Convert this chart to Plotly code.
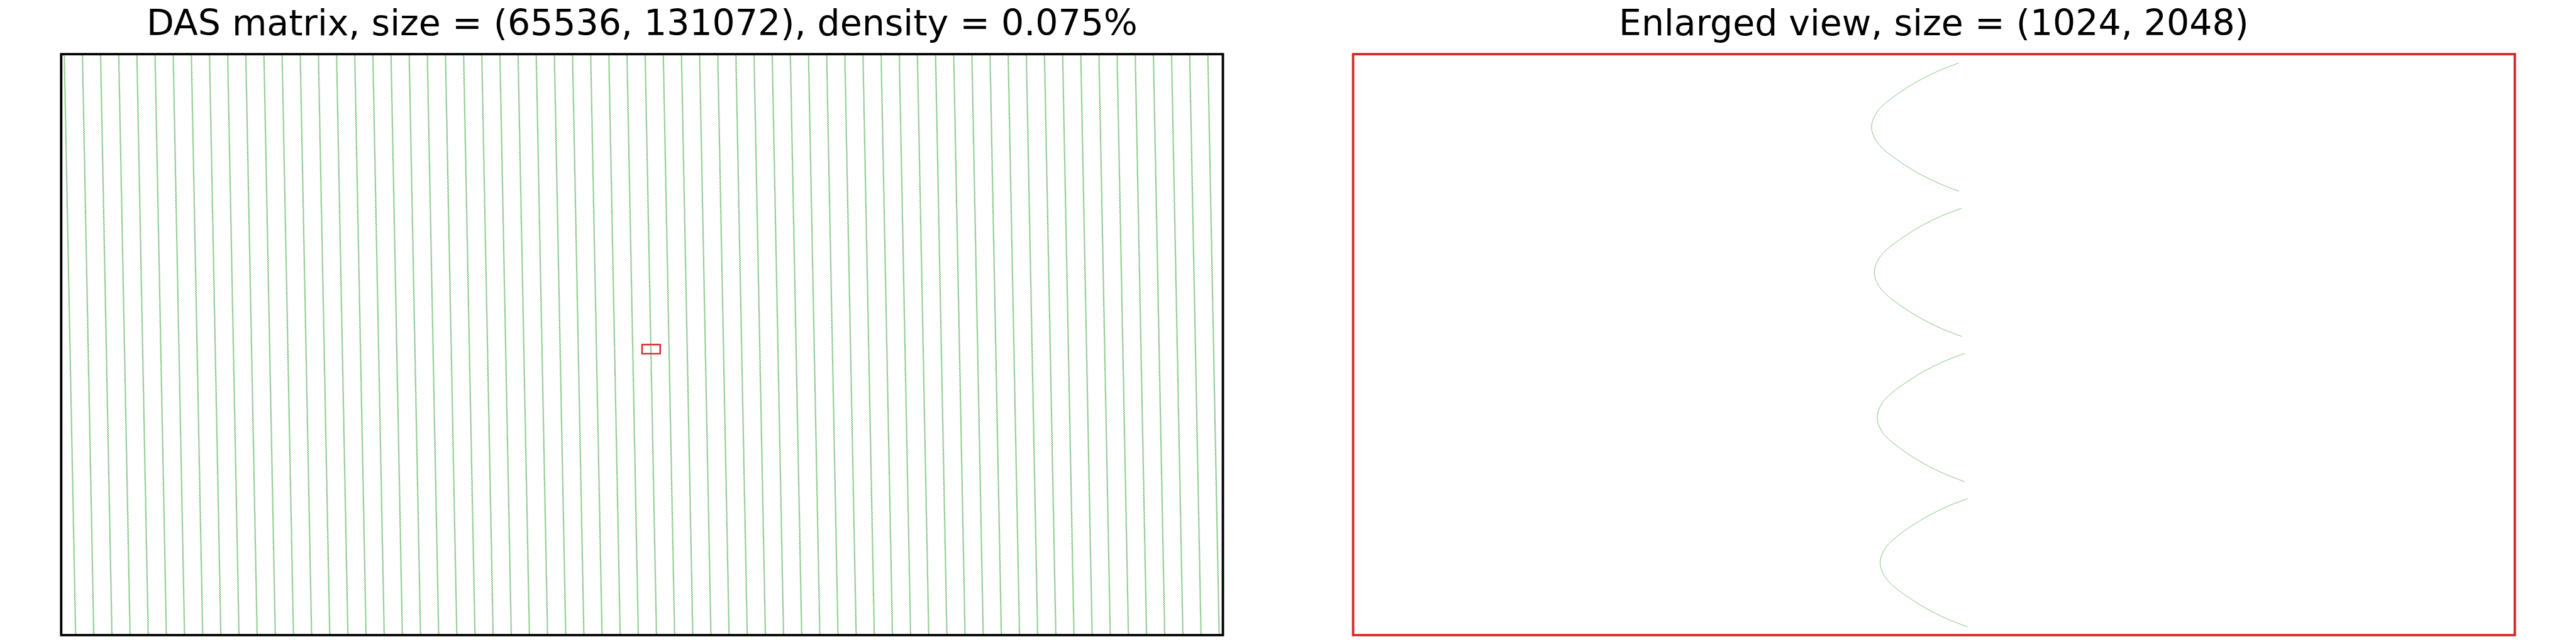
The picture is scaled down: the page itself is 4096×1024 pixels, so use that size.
import numpy as np
import plotly.graph_objects as go

# ---------------- data ----------------
N_ROWS = 65536
N_COLS = 131072
DENSITY_PCT = 0.075

# enlarged window (sub-matrix shown on the right)
ZOOM_ROW0 = 32768
ZOOM_COL0 = 65536
ZOOM_NROWS = 1024
ZOOM_NCOLS = 2048

BLOCK_ROWS = 256          # one hyperbolic arc per 256-row block
ARC_VERTEX_ROW = 128      # vertex row inside a block

# shape of one arc, relative to its vertex (read from the enlarged view)
arc_drow = [-113, -99, -80, -57, -40, -27, -13, 0, 13, 27, 40, 57, 80, 99, 113]
arc_dcol = [154, 118, 80, 44, 22, 10, 2.6, 0, 2.6, 10, 22, 44, 80, 118, 154]

# vertex column of each of the 64 events in the first block
line_vertex_col_top = [
    275, 2323, 4371, 6419, 8467, 10515, 12563, 14611, 16659, 18707, 20755,
    22803, 24851, 26899, 28947, 30995, 33043, 35091, 37139, 39187, 41235,
    43283, 45331, 47379, 49427, 51475, 53523, 55571, 57619, 59667, 61715,
    63763, 65811, 67859, 69907, 71955, 74003, 76051, 78099, 80147, 82195,
    84243, 86291, 88339, 90387, 92435, 94483, 96531, 98579, 100627, 102675,
    104723, 106771, 108819, 110867, 112915, 114963, 117011, 119059, 121107,
    123155, 125203, 127251, 129299,
]
drift_cols_per_block = 5.0

# arcs seen in the enlarged view (local coordinates)
zoom_vertex_rows = [128, 384, 640, 896]
zoom_vertex_cols = [913.5, 918.3, 923.4, 928.7]

TITLE_LEFT = "DAS matrix, size = ({}, {}), density = {}%".format(N_ROWS, N_COLS, DENSITY_PCT)
TITLE_RIGHT = "Enlarged view, size = ({}, {})".format(ZOOM_NROWS, ZOOM_NCOLS)

GREEN = "#2ca02c"
RED = "#d62728"

# ---------------- build marks ----------------
drow = np.array(arc_drow, dtype=float)
dcol = np.array(arc_dcol, dtype=float)
n_blocks = N_ROWS // BLOCK_ROWS
blk = np.arange(n_blocks)
tops = np.array(line_vertex_col_top, dtype=float)

vx = tops[:, None] + drift_cols_per_block * blk[None, :]          # (64, 256)
vy = np.broadcast_to(blk[None, :] * BLOCK_ROWS + ARC_VERTEX_ROW, vx.shape)
X = vx[:, :, None] + dcol[None, None, :]
Y = vy[:, :, None] + drow[None, None, :]
X = np.concatenate([X, np.full(X.shape[:2] + (1,), np.nan)], axis=2).ravel()
Y = np.concatenate([Y, np.full(Y.shape[:2] + (1,), np.nan)], axis=2).ravel()
left_x = [None if np.isnan(v) else round(float(v), 1) for v in X]
left_y = [None if np.isnan(v) else round(float(v), 1) for v in Y]

right_x, right_y = [], []
for r, c in zip(zoom_vertex_rows, zoom_vertex_cols):
    right_x += [c + d for d in arc_dcol] + [None]
    right_y += [r + d for d in arc_drow] + [None]

# ---------------- figure ----------------
W, H = 4096, 1024
fig = go.Figure()
fig.add_trace(go.Scatter(x=left_x, y=left_y, mode="lines",
                         line=dict(color=GREEN, width=1.0),
                         xaxis="x", yaxis="y", hoverinfo="skip", showlegend=False))
fig.add_trace(go.Scatter(x=right_x, y=right_y, mode="lines",
                         line=dict(color=GREEN, width=1.0, shape="spline"),
                         opacity=0.6,
                         xaxis="x2", yaxis="y2", hoverinfo="skip", showlegend=False))

def px_x(v):
    return v / W

def px_y(v):
    return 1 - v / H

ax_common = dict(showgrid=False, zeroline=False, showticklabels=False,
                 ticks="", showline=False, fixedrange=True)
fig.update_layout(
    width=W, height=H,
    margin=dict(l=0, r=0, t=0, b=0),
    paper_bgcolor="white", plot_bgcolor="white",
    xaxis=dict(domain=[px_x(97.3), px_x(1944.5)], range=[-0.5, N_COLS - 0.5], **ax_common),
    yaxis=dict(domain=[px_y(1009.8), px_y(86.1)], range=[N_ROWS - 0.5, -0.5], **ax_common),
    xaxis2=dict(domain=[px_x(2151.5), px_x(3998.7)], range=[-0.5, ZOOM_NCOLS - 0.5],
                anchor="y2", **ax_common),
    yaxis2=dict(domain=[px_y(1009.8), px_y(86.1)], range=[ZOOM_NROWS - 0.5, -0.5],
                anchor="x2", **ax_common),
    font=dict(family="DejaVu Sans", color="black"),
)

# frames
fig.add_shape(type="rect", xref="x domain", yref="y domain", x0=0, x1=1, y0=0, y1=1,
              line=dict(color="black", width=3.8), layer="above")
fig.add_shape(type="rect", xref="x2 domain", yref="y2 domain", x0=0, x1=1, y0=0, y1=1,
              line=dict(color=RED, width=3.8), layer="above")
# location of the enlarged window
fig.add_shape(type="rect", xref="x", yref="y",
              x0=ZOOM_COL0, x1=ZOOM_COL0 + ZOOM_NCOLS,
              y0=ZOOM_ROW0, y1=ZOOM_ROW0 + ZOOM_NROWS,
              line=dict(color=RED, width=2.4), layer="above")

# titles
for txt, xc in [(TITLE_LEFT, (97.3 + 1944.5) / 2), (TITLE_RIGHT, (2151.5 + 3998.7) / 2)]:
    fig.add_annotation(text=txt, xref="paper", yref="paper", x=px_x(xc), y=px_y(36.4),
                       xanchor="center", yanchor="middle", showarrow=False,
                       font=dict(family="DejaVu Sans", size=56.9, color="black"))

fig.write_html("out.html",
               config={"displayModeBar": False, "staticPlot": True},
               post_script="document.body.style.margin='0';document.body.style.overflow='hidden';")
